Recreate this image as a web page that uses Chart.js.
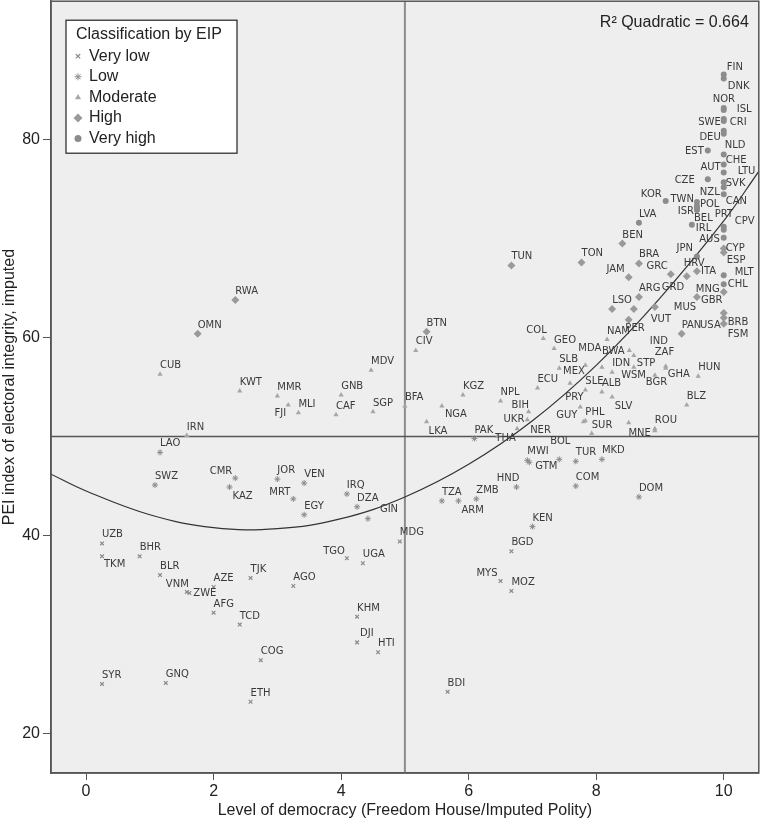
<!DOCTYPE html>
<html>
<head>
<meta charset="utf-8">
<script src="https://cdn.jsdelivr.net/npm/chart.js@4.4.1/dist/chart.umd.min.js"></script>
<style>
  html, body { margin: 0; padding: 0; background: #fff; width: 761px; height: 820px; overflow: hidden; }
  /* Chart.js keeps a few px of label padding at top/right; shift the canvas to absorb it */
  #wrap { width: 764px; height: 824px; position: relative; margin-top: -4px; }
</style>
</head>
<body>
<div id="wrap"><canvas id="peiChart"></canvas></div>
<script>
// Country codes, level of democracy (x) and PEI index (y), by EIP class
const veryLowCodes = ['UZB','TKM','BHR','BLR','VNM','ZWE','AZE','AFG','TCD','TJK','AGO','TGO','UGA','MDG','KHM','DJI','HTI','COG','ETH','SYR','GNQ','BDI','MYS','MOZ','BGD'];
const veryLowDem = [0.25,0.25,0.84,1.16,1.58,1.62,2.0,2.0,2.41,2.58,3.25,4.09,4.34,4.92,4.25,4.25,4.58,2.74,2.58,0.25,1.25,5.67,6.5,6.67,6.67];
const veryLowPei = [39.2,37.9,37.9,36.0,34.3,34.2,34.8,32.2,31.0,35.7,34.9,37.7,37.2,39.4,31.8,29.2,28.2,27.4,23.2,25.0,25.1,24.2,35.4,34.4,38.4];

const lowCodes = ['LAO','SWZ','CMR','KAZ','JOR','VEN','MRT','EGY','IRQ','DZA','GIN','TZA','ARM','ZMB','HND','PAK','MWI','GTM','BOL','TUR','MKD','COM','DOM','KEN'];
const lowDem = [1.16,1.08,2.34,2.25,3.0,3.42,3.25,3.42,4.09,4.25,4.42,5.58,5.84,6.12,6.75,6.09,6.92,6.95,7.42,7.68,8.09,7.68,8.67,7.0];
const lowPei = [48.4,45.1,45.8,44.9,45.7,45.3,43.7,42.1,44.2,42.9,41.7,43.5,43.5,43.7,44.9,49.8,47.6,47.4,47.7,47.5,47.7,45.0,43.9,40.9];

const moderateCodes = ['CUB','IRN','KWT','MMR','FJI','MLI','GNB','CAF','MDV','SGP','CIV','BFA','NGA','LKA','KGZ','NPL','BIH','UKR','NER','THA','ECU','COL','GEO','SLB','MDA','BWA','MEX','IDN','STP','WSM','SLE','ALB','PRY','PHL','GUY','SUR','SLV','MNE','ROU','NAM','PER','IND','ZAF','GHA','BGR','HUN','BLZ'];
const moderateDem = [1.16,1.58,2.41,3.0,3.17,3.33,4.0,3.92,4.47,4.5,5.17,5.0,5.58,5.34,5.91,6.5,6.94,6.92,6.76,6.45,7.08,7.17,7.34,7.42,7.83,8.09,7.59,8.25,8.59,8.25,7.83,8.09,7.75,7.83,7.8,7.93,8.51,8.92,8.92,8.17,8.52,8.59,9.09,9.09,8.92,9.6,9.42];
const moderatePei = [56.3,50.1,54.6,54.1,53.2,52.4,54.2,52.2,56.7,52.5,58.7,53.1,53.1,51.5,54.2,53.6,52.5,51.7,50.8,50.0,54.9,59.9,58.9,56.9,57.2,57.0,55.4,56.5,57.0,54.0,54.7,54.5,53.0,51.6,51.5,50.3,51.4,50.6,50.8,59.8,58.7,58.2,57.1,56.9,56.2,56.1,53.2];

const highCodes = ['RWA','OMN','BTN','TUN','TON','BEN','BRA','JAM','GRC','HRV','ITA','ARG','GRD','MUS','LSO','VUT','PAN','GBR','MNG','CYP','ESP','USA','BRB','FSM'];
const highDem = [2.34,1.75,5.34,6.67,7.77,8.41,8.67,8.51,9.17,9.42,9.58,8.67,8.59,8.92,8.25,8.51,9.34,9.58,10,10,10,10,10,10];
const highPei = [63.8,60.4,60.6,67.3,67.6,69.5,67.5,66.1,66.4,66.2,66.7,64.1,62.9,63.1,62.9,61.8,60.4,64.1,64.6,69.0,68.6,61.4,62.5,62.0];

const veryHighCodes = ['FIN','DNK','NOR','ISL','SWE','CRI','DEU','NLD','EST','CHE','AUT','LTU','CZE','SVK','NZL','CAN','KOR','TWN','POL','ISR','BEL','IRL','LVA','PRT','CPV','AUS','JPN','MLT','CHL'];
const veryHighDem = [10,10,10,10,10,10,10,10,9.75,10,10,10,9.75,10,10,10,9.09,9.58,9.58,9.58,9.58,9.5,8.67,10,10,10,9.58,10,10];
const veryHighPei = [86.6,86.2,83.2,83.0,82.1,81.9,80.9,80.6,78.9,78.5,77.5,76.7,76.0,75.7,75.2,74.5,73.8,73.7,73.3,73.1,72.9,71.4,71.6,71.2,70.9,70.1,68.2,66.3,65.4];

// Quadratic fit line
const fitX = [-0.55, 0, 1, 2, 3, 4, 5, 6, 7, 8, 9, 10, 10.55];
const fitY = [46.2, 44.5, 42.1, 40.8, 40.7, 41.7, 43.9, 47.2, 51.6, 57.2, 64.0, 71.8, 76.8];

const xTicks = [0, 2, 4, 6, 8, 10];
const yTicks = [20, 40, 60, 80];
const democracyCut = 5;
const integrityCut = 50;
const r2Text = 'R\u00B2 Quadratic = 0.664';

// label placement tweaks: [dx, dy, align]
const labelNudge = {
  FIN:[3,-4], DNK:[4,11], NOR:[-11,-6], ISL:[13,2], SWE:[-3,6,'r'], CRI:[6,4], DEU:[-3,9,'r'], NLD:[1,14],
  EST:[-4,3,'r'], CHE:[2,8], AUT:[-3,6,'r'], LTU:[14,2], CZE:[-13,4,'r'], SVK:[2,4], NZL:[-4,8,'r'], CAN:[2,10],
  KOR:[-4,-4,'r'], TWN:[-3,0,'r'], POL:[3,1], ISR:[-3,6,'r'], BEL:[-3,11], IRL:[4,6], PRT:[-9,-10], CPV:[11,-6],
  AUS:[-4,4,'r'], CYP:[2,2], ESP:[3,10], JPN:[-4,-5,'r'],
  JAM:[-4,-5,'r'], GRC:[-3,-5,'r'], HRV:[-3,-10], ITA:[4,3], MLT:[11,0], CHL:[4,3], GRD:[28,-19], MUS:[19,3],
  MNG:[-4,0,'r'], GBR:[4,6], VUT:[22,2], USA:[-3,4,'r'], BRB:[4,12], FSM:[4,19],
  COL:[-17,-6], MDA:[-7,-14], BWA:[0,-13], MEX:[-7,-9], STP:[3,-1], WSM:[9,-19], PRY:[-15,-7], GUY:[-6,-4,'r'],
  SLV:[-14,-14], MNE:[-4,5,'r'], PER:[-4,-19], IND:[16,-11], ZAF:[-11,-11], GHA:[2,9], BGR:[-9,10],
  FJI:[-2,11,'r'], NGA:[3,11], LKA:[2,12], BIH:[-17,-4], UKR:[-3,2,'r'], NER:[13,4], THA:[-2,4],
  CMR:[-3,-4,'r'], KAZ:[3,12], MRT:[-3,-4,'r'], GIN:[12,-7], ARM:[3,12], HND:[3,-6,'r'], GTM:[6,7], BOL:[-9,-15],
  TKM:[2,11], VNM:[2,-5,'r'], ZWE:[4,3], TGO:[-2,-4,'r'], DJI:[3,-6], MYS:[-3,-5,'r']
};

const toPoints = (xs, ys) => xs.map((v, i) => ({ x: v, y: ys[i] }));

const classes = [
  { label: 'Very low', codes: veryLowCodes, xs: veryLowDem, ys: veryLowPei, style: 'crossRot', radius: 2.6, color: '#8a8a8a', bw: 1.2 },
  { label: 'Low', codes: lowCodes, xs: lowDem, ys: lowPei, style: 'star', radius: 3, color: '#8a8a8a', bw: 1 },
  { label: 'Moderate', codes: moderateCodes, xs: moderateDem, ys: moderatePei, style: 'triangle', radius: 3, color: '#a6a6a6', bw: 0 },
  { label: 'High', codes: highCodes, xs: highDem, ys: highPei, style: 'rectRot', radius: 4, color: '#9a9a9a', bw: 0 },
  { label: 'Very high', codes: veryHighCodes, xs: veryHighDem, ys: veryHighPei, style: 'circle', radius: 3, color: '#8c8c8c', bw: 0 }
];

const datasets = classes.map(c => ({
  label: c.label,
  codes: c.codes,
  data: toPoints(c.xs, c.ys),
  pointStyle: c.style,
  pointRadius: c.radius,
  pointBorderWidth: c.bw,
  backgroundColor: c.color,
  borderColor: c.color
}));

datasets.push({
  label: 'Quadratic fit',
  data: toPoints(fitX, fitY),
  showLine: true,
  tension: 0.4,
  borderColor: '#333',
  borderWidth: 1.2,
  pointRadius: 0
});

const axisFont = { family: "'Liberation Sans', Arial, sans-serif", size: 16 };

const plotDecor = {
  id: 'plotDecor',
  beforeDraw(chart) {
    const { ctx, chartArea: a } = chart;
    ctx.save();
    ctx.fillStyle = '#eeeeee';
    ctx.fillRect(a.left, a.top, a.width, a.height);
    ctx.restore();
  },
  beforeDatasetsDraw(chart) {
    const { ctx, chartArea: a, scales: { x, y } } = chart;
    ctx.save();
    const vx = x.getPixelForValue(democracyCut);
    ctx.strokeStyle = '#8c8c8c';
    ctx.lineWidth = 2;
    ctx.beginPath(); ctx.moveTo(vx, a.top); ctx.lineTo(vx, a.bottom); ctx.stroke();
    const hy = y.getPixelForValue(integrityCut);
    ctx.strokeStyle = '#555';
    ctx.lineWidth = 1.5;
    ctx.beginPath(); ctx.moveTo(a.left, hy); ctx.lineTo(a.right, hy); ctx.stroke();
    ctx.restore();
  },
  afterDatasetsDraw(chart) {
    const { ctx, chartArea: a } = chart;
    ctx.save();
    // country labels
    ctx.font = "10px 'DejaVu Sans', Verdana, sans-serif";
    ctx.fillStyle = '#3a3a3a';
    ctx.textBaseline = 'alphabetic';
    chart.data.datasets.forEach((ds, i) => {
      if (!ds.codes) return;
      chart.getDatasetMeta(i).data.forEach((el, j) => {
        const code = ds.codes[j];
        const n = labelNudge[code] || [0, -6];
        ctx.textAlign = n[2] === 'r' ? 'right' : 'left';
        ctx.fillText(code, el.x + n[0], el.y + n[1]);
      });
    });
    // frame
    ctx.strokeStyle = '#555';
    ctx.lineWidth = 1.5;
    ctx.strokeRect(a.left, a.top, a.width, a.height);
    // R squared
    ctx.font = "16px 'Liberation Sans', Arial, sans-serif";
    ctx.fillStyle = '#222';
    ctx.textAlign = 'right';
    ctx.fillText(r2Text, a.right - 10, a.top + 26);
    // legend box
    const lx = a.left + 15, ly = a.top + 19;
    ctx.fillStyle = '#fff';
    ctx.fillRect(lx, ly, 171, 133);
    ctx.strokeStyle = '#222';
    ctx.lineWidth = 1.2;
    ctx.strokeRect(lx, ly, 171, 133);
    ctx.fillStyle = '#222';
    ctx.textAlign = 'left';
    ctx.textBaseline = 'middle';
    ctx.fillText('Classification by EIP', lx + 10, ly + 14);
    classes.forEach((c, k) => {
      const cy = ly + 36 + k * 20.6;
      ctx.fillStyle = c.color;
      ctx.strokeStyle = c.color;
      ctx.lineWidth = c.bw || 1;
      Chart.helpers.drawPoint(ctx, { pointStyle: c.style, rotation: 0, radius: c.radius + 0.5, borderWidth: c.bw }, lx + 12, cy);
      ctx.fillStyle = '#222';
      ctx.fillText(c.label, lx + 23, cy);
    });
    ctx.restore();
  }
};

const ctx = document.getElementById('peiChart').getContext('2d');

new Chart(ctx, {
  type: 'scatter',
  data: { datasets },
  options: {
    responsive: true,
    maintainAspectRatio: false,
    animation: false,
    events: [],
    layout: { padding: { top: 1, right: 2, left: 0, bottom: 0 } },
    plugins: {
      legend: { display: false },
      tooltip: { enabled: false }
    },
    scales: {
      x: {
        type: 'linear',
        min: -0.55,
        max: 10.55,
        afterBuildTicks: s => { s.ticks = xTicks.map(v => ({ value: v })); },
        afterFit: s => { s.height = 47; s.paddingLeft = 0; s.paddingRight = 0; },
        grid: { drawOnChartArea: false, drawTicks: true, tickLength: 7, tickColor: '#555' },
        border: { display: true, color: '#555', width: 1.5 },
        ticks: { font: axisFont, color: '#222', padding: 2, maxRotation: 0 },
        title: { display: true, text: 'Level of democracy (Freedom House/Imputed Polity)', font: axisFont, color: '#222', padding: { top: 0, bottom: 0 } }
      },
      y: {
        type: 'linear',
        min: 16,
        max: 94,
        afterBuildTicks: s => { s.ticks = yTicks.map(v => ({ value: v })); },
        afterFit: s => { s.width = 51; s.paddingTop = 0; s.paddingBottom = 0; },
        grid: { drawOnChartArea: false, drawTicks: true, tickLength: 8, tickColor: '#555' },
        border: { display: true, color: '#555', width: 1.5 },
        ticks: { font: axisFont, color: '#222', padding: 3 },
        title: { display: true, text: 'PEI index of electoral integrity, imputed', font: axisFont, color: '#222', padding: { top: 0, bottom: 0 } }
      }
    }
  },
  plugins: [plotDecor]
});
</script>
</body>
</html>
